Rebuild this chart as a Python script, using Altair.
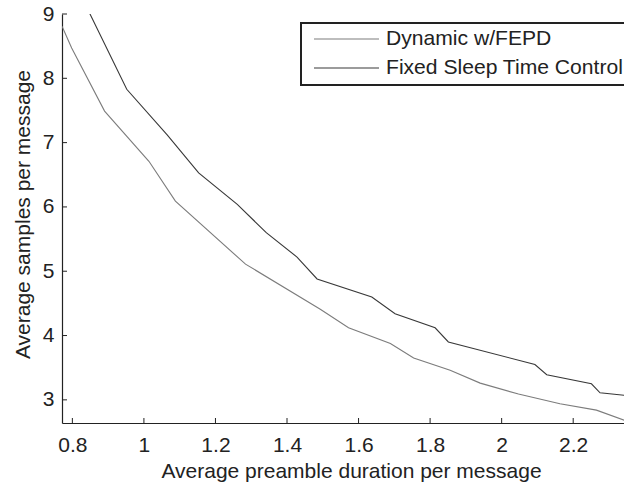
import altair as alt
import pandas as pd

series = ["Dynamic w/FEPD", "Fixed Sleep Time Control"]

dyn_x = [0.771, 0.798, 0.890, 1.014, 1.088, 1.284, 1.493, 1.572, 1.689, 1.754, 1.856, 1.940, 2.047, 2.163, 2.265, 2.345]
dyn_y = [8.81, 8.47, 7.49, 6.71, 6.09, 5.11, 4.41, 4.12, 3.875, 3.65, 3.46, 3.26, 3.09, 2.94, 2.84, 2.68]

fix_x = [0.844, 0.952, 1.065, 1.153, 1.261, 1.342, 1.428, 1.484, 1.637, 1.702, 1.814, 1.851, 2.093, 2.126, 2.251, 2.275, 2.345]
fix_y = [9.06, 7.83, 7.12, 6.53, 6.04, 5.60, 5.22, 4.88, 4.60, 4.34, 4.12, 3.90, 3.55, 3.39, 3.25, 3.11, 3.07]

x_ticks = [0.8, 1.0, 1.2, 1.4, 1.6, 1.8, 2.0, 2.2]
y_ticks = [3, 4, 5, 6, 7, 8, 9]

df = pd.DataFrame({
    "x": dyn_x + fix_x,
    "y": dyn_y + fix_y,
    "series": [series[0]] * len(dyn_x) + [series[1]] * len(fix_x),
    "order": list(range(len(dyn_x))) + list(range(len(fix_x))),
})

W, H = 562, 409
FONT = "Liberation Sans"
INK = "#222222"
FS = 21

xs = alt.Scale(domain=[0.771, 2.342], nice=False, zero=False)
ys = alt.Scale(domain=[2.64, 9.0], nice=False, zero=False)

lines = alt.Chart(df).mark_line(strokeWidth=1.1, clip=True).encode(
    x=alt.X("x:Q", scale=xs, axis=alt.Axis(
        values=x_ticks, format="~g", title="Average preamble duration per message",
        ticks=False, tickSize=0, labelPadding=11, titlePadding=5, titleX=289)),
    y=alt.Y("y:Q", scale=ys, axis=alt.Axis(
        values=y_ticks, format="~g", title="Average samples per message",
        ticks=False, tickSize=0, labelPadding=8, titlePadding=9, titleY=200)),
    color=alt.Color("series:N", scale=alt.Scale(domain=series, range=["#7c7c7c", "#383838"]),
                    legend=alt.Legend(
                        title=None, orient="none", legendX=239, legendY=9,
                        symbolType="stroke", symbolSize=4225, symbolStrokeWidth=1.1,
                        clipHeight=20, rowPadding=7, padding=6, symbolOffset=6,
                        labelOffset=6, labelFontSize=21.1, labelFont=FONT, labelColor=INK,
                        labelLimit=600, strokeColor=INK, fillColor="white")),
    order="order:Q",
)

xt = alt.Chart(pd.DataFrame({"v": x_ticks})).mark_rule(color=INK, strokeWidth=1).encode(
    x=alt.X("v:Q", scale=xs), y=alt.value(H - 5), y2=alt.value(H))
yt = alt.Chart(pd.DataFrame({"v": y_ticks})).mark_rule(color=INK, strokeWidth=1).encode(
    y=alt.Y("v:Q", scale=ys), x=alt.value(0), x2=alt.value(5))

chart = alt.layer(lines, xt, yt).properties(
    width=W, height=H,
    autosize=alt.AutoSizeParams(type="none"),
    padding={"left": 62, "top": 14, "right": 0, "bottom": 59},
).configure_view(stroke=None).configure_axis(
    grid=False, domainColor=INK, domainWidth=1.2, labelColor=INK, titleColor=INK,
    labelFont=FONT, titleFont=FONT, labelFontSize=FS, titleFontSize=FS,
    titleFontWeight="normal",
).configure_legend(strokeWidth=2)

chart.save("out.html", embed_options={"renderer": "svg", "actions": False})
